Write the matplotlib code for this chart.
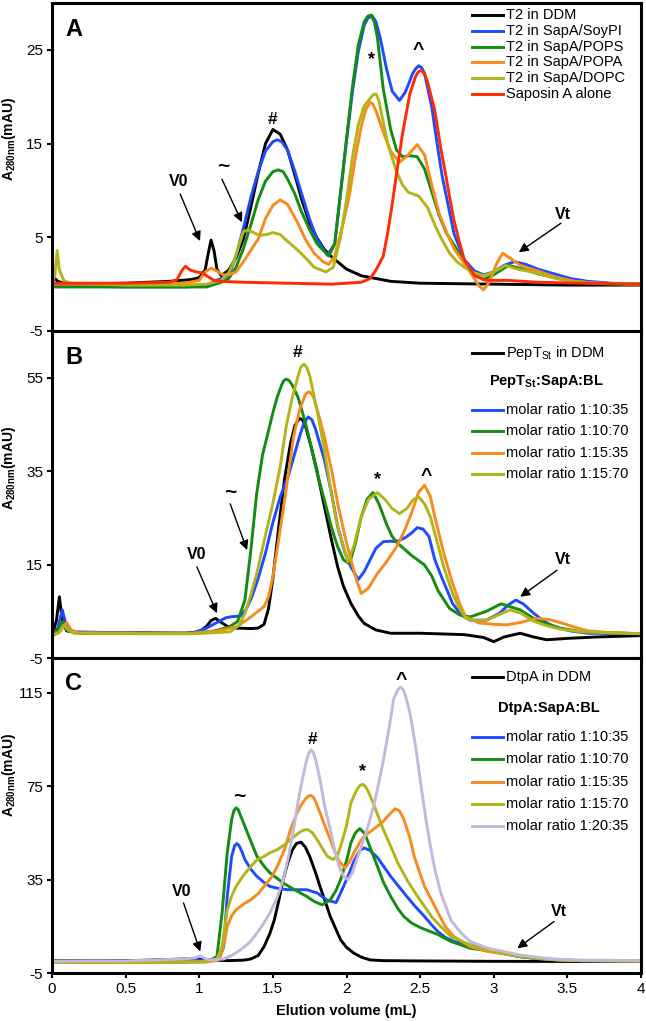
import matplotlib
matplotlib.use('Agg')
import matplotlib.pyplot as plt

plt.rcParams['font.family'] = ['Liberation Sans', 'DejaVu Sans']
plt.rcParams['mathtext.fontset'] = 'custom'
plt.rcParams['mathtext.rm'] = 'Liberation Sans'
plt.rcParams['mathtext.bf'] = 'Liberation Sans:bold'
plt.rcParams['mathtext.it'] = 'Liberation Sans:italic'

# ---------------- Panel A : T2 ----------------
A_x_ddm = [0, 0.02, 0.04, 0.08, 0.2, 0.5, 0.8, 0.95, 1.0, 1.04, 1.06, 1.08, 1.1, 1.12, 1.15,
           1.2, 1.25, 1.3, 1.35, 1.4, 1.45, 1.5, 1.55, 1.6, 1.65, 1.7, 1.75, 1.8, 1.85, 1.9,
           2.0, 2.1, 2.2, 2.3, 2.5, 3.0, 3.5, 4.0]
A_y_ddm = [0.3, 0.6, 0.3, 0.1, 0.0, 0.1, 0.3, 0.5, 0.7, 1.5, 3.2, 4.7, 3.6, 1.6, 0.9,
           1.5, 2.8, 4.8, 8.2, 11.8, 15.0, 16.5, 16.0, 14.3, 11.6, 8.8, 6.5, 4.9, 3.7, 2.9,
           1.6, 0.9, 0.6, 0.3, 0.1, 0.0, -0.1, -0.1]

A_x_soy = [0, 0.1, 0.5, 0.9, 1.05, 1.1, 1.15, 1.2, 1.25, 1.3, 1.35, 1.4, 1.45, 1.5, 1.53, 1.56,
           1.6, 1.65, 1.7, 1.75, 1.8, 1.87, 1.92, 1.96, 2.0, 2.04, 2.08, 2.12, 2.145, 2.175, 2.2,
           2.23, 2.27, 2.31, 2.36, 2.4, 2.45, 2.47, 2.49, 2.51, 2.53, 2.58, 2.62, 2.65, 2.73, 2.8,
           2.87, 2.93, 3.0, 3.07, 3.14, 3.22, 3.3, 3.41, 3.52, 3.64, 3.8, 4.0]
A_y_soy = [-0.2, -0.2, -0.3, -0.3, -0.2, 0.3, 0.6, 0.9, 3.0, 6.0, 9.2, 12.0, 14.2, 15.2, 15.4, 15.2,
           14.3, 12.0, 9.4, 6.9, 4.8, 3.1, 4.3, 9.8, 15.3, 20.5, 24.8, 27.6, 28.4, 28.6, 28.0,
           26.2, 23.1, 20.6, 19.6, 20.5, 22.5, 23.0, 23.3, 23.1, 22.5, 18.8, 14.5, 11.5, 5.4, 2.6,
           1.4, 1.0, 1.3, 2.0, 2.4, 2.1, 1.6, 1.1, 0.6, 0.3, 0.1, 0.0]

A_x_pops = [0, 0.5, 0.9, 1.05, 1.15, 1.2, 1.25, 1.3, 1.35, 1.4, 1.45, 1.5, 1.535, 1.57, 1.6, 1.65,
            1.69, 1.75, 1.8, 1.88, 1.92, 1.96, 2.0, 2.04, 2.08, 2.12, 2.145, 2.17, 2.19, 2.21, 2.25,
            2.3, 2.34, 2.38, 2.43, 2.48, 2.53, 2.58, 2.63, 2.68, 2.73, 2.8, 2.87, 2.93, 3.0, 3.1,
            3.2, 3.3, 3.41, 3.52, 3.64, 3.8, 4.0]
A_y_pops = [-0.3, -0.3, -0.3, -0.3, 0.2, 0.6, 1.8, 3.8, 6.3, 9.0, 11.0, 12.0, 12.2, 12.0, 11.2, 9.6,
            7.9, 5.8, 4.3, 3.0, 4.3, 9.8, 15.5, 21.0, 25.5, 28.0, 28.6, 28.7, 27.9, 26.3, 20.8,
            16.5, 14.3, 13.6, 13.7, 13.6, 12.3, 9.8, 7.3, 5.4, 4.2, 2.4, 1.0, 0.5, 1.0, 2.0,
            1.6, 1.1, 0.7, 0.3, 0.1, 0.0, 0.0]

A_x_popa = [0, 0.5, 0.9, 1.0, 1.04, 1.08, 1.12, 1.16, 1.2, 1.25, 1.3, 1.35, 1.4, 1.45, 1.5, 1.55,
            1.6, 1.67, 1.72, 1.78, 1.84, 1.88, 1.92, 1.97, 2.02, 2.06, 2.1, 2.13, 2.16, 2.18, 2.2,
            2.25, 2.3, 2.36, 2.42, 2.48, 2.53, 2.58, 2.63, 2.68, 2.73, 2.8, 2.86, 2.9, 2.93, 2.97,
            3.02, 3.06, 3.1, 3.18, 3.3, 3.41, 3.55, 3.7, 4.0]
A_y_popa = [0.0, 0.0, 0.1, 0.4, 1.3, 1.7, 1.4, 1.0, 1.0, 1.3, 2.4, 3.6, 4.8, 7.0, 8.4, 9.0,
            8.5, 6.5, 4.8, 3.3, 2.4, 2.1, 3.0, 6.0, 9.5, 13.5, 16.8, 18.6, 19.4, 19.2, 18.5,
            16.2, 14.2, 13.0, 13.8, 14.9, 13.8, 10.5, 7.5, 5.5, 3.8, 2.2, 0.8, -0.2, -0.6, 0.2,
            2.2, 3.3, 2.9, 2.0, 1.4, 0.8, 0.3, 0.1, 0.0]

A_x_dopc = [0, 0.02, 0.035, 0.05, 0.08, 0.12, 0.5, 0.9, 1.05, 1.15, 1.2, 1.24, 1.27, 1.3, 1.33,
            1.37, 1.41, 1.46, 1.5, 1.55, 1.59, 1.65, 1.69, 1.74, 1.78, 1.86, 1.91, 1.96, 2.0, 2.04,
            2.08, 2.12, 2.16, 2.18, 2.2, 2.22, 2.24, 2.28, 2.34, 2.38, 2.42, 2.49, 2.55, 2.6, 2.64,
            2.7, 2.75, 2.8, 2.87, 2.93, 3.0, 3.08, 3.16, 3.29, 3.4, 3.52, 3.7, 4.0]
A_y_dopc = [0.0, 1.0, 3.6, 1.5, 0.4, 0.1, -0.1, -0.1, 0.0, 0.4, 1.2, 2.6, 4.2, 5.6, 5.8,
            5.5, 5.2, 5.3, 5.5, 5.3, 4.7, 3.9, 3.3, 2.5, 1.8, 1.3, 1.8, 5.0, 9.0, 13.5,
            17.0, 19.0, 19.8, 20.2, 20.3, 19.6, 18.0, 15.0, 12.0, 10.6, 9.8, 9.4, 8.2, 6.3, 5.0,
            3.3, 2.4, 1.8, 1.2, 0.9, 1.3, 2.0, 1.6, 1.2, 0.7, 0.3, 0.1, 0.0]

A_x_sapa = [0, 0.5, 0.8, 0.85, 0.88, 0.905, 0.94, 0.98, 1.02, 1.06, 1.1, 1.15, 1.3, 1.6, 1.9, 2.1,
            2.16, 2.2, 2.25, 2.28, 2.31, 2.34, 2.38, 2.43, 2.47, 2.49, 2.51, 2.53, 2.55, 2.6, 2.64,
            2.67, 2.7, 2.73, 2.77, 2.8, 2.87, 2.95, 3.1, 3.3, 3.6, 4.0]
A_y_sapa = [0.1, 0.1, 0.2, 0.5, 1.4, 1.9, 1.5, 1.3, 1.2, 0.8, 0.4, 0.3, 0.2, 0.1, 0.0, 0.2,
            0.6, 1.5, 3.0, 5.5, 8.5, 11.8, 16.0, 20.3, 22.2, 22.7, 22.8, 22.4, 21.6, 18.5, 14.5,
            12.0, 9.3, 6.8, 4.3, 2.6, 0.9, 0.4, 0.4, 0.2, 0.1, 0.0]

A_labels = ['T2 in DDM', 'T2 in SapA/SoyPI', 'T2 in SapA/POPS', 'T2 in SapA/POPA',
            'T2 in SapA/DOPC', 'Saposin A alone']

# ---------------- Panel B : PepT_St ----------------
B_x_ddm = [0, 0.03, 0.05, 0.07, 0.1, 0.2, 0.6, 0.9, 1.0, 1.05, 1.08, 1.11, 1.15, 1.2, 1.25, 1.35,
           1.40, 1.44, 1.47, 1.5, 1.54, 1.58, 1.62, 1.65, 1.68, 1.70, 1.72, 1.76, 1.8, 1.85, 1.9,
           1.94, 1.98, 2.03, 2.08, 2.12, 2.2, 2.3, 2.5, 2.8, 2.93, 3.0, 3.07, 3.18, 3.27, 3.36,
           3.5, 3.7, 4.0]
B_y_ddm = [-0.2, 3.0, 8.1, 3.0, 0.8, 0.3, 0.4, 0.3, 0.6, 1.8, 3.0, 3.5, 2.6, 1.6, 1.4, 1.3,
           1.4, 2.2, 5.5, 12.0, 23.1, 33.5, 41.0, 44.8, 46.3, 46.0, 44.8, 40.2, 35.0, 27.4, 20.0,
           14.5, 10.3, 6.7, 4.0, 2.4, 1.0, 0.3, 0.3, 0.0, -0.6, -1.5, -0.5, 0.3, -0.5, -1.1,
           -0.8, -0.5, -0.2]

B_x_1035 = [0, 0.04, 0.07, 0.1, 0.15, 0.6, 0.95, 1.05, 1.12, 1.18, 1.21, 1.28, 1.32, 1.36, 1.4,
            1.45, 1.5, 1.55, 1.61, 1.68, 1.71, 1.74, 1.765, 1.79, 1.85, 1.9, 1.94, 1.99, 2.03, 2.08,
            2.12, 2.16, 2.2, 2.25, 2.3, 2.34, 2.4, 2.44, 2.48, 2.52, 2.56, 2.6, 2.65, 2.72, 2.78,
            2.84, 2.95, 3.04, 3.1, 3.15, 3.2, 3.27, 3.34, 3.41, 3.52, 3.64, 4.0]
B_y_1035 = [-0.2, 1.5, 5.3, 1.5, 0.6, 0.3, 0.3, 1.4, 2.6, 3.6, 3.8, 4.0, 5.5, 8.3, 12.0,
            17.5, 24.0, 29.5, 34.5, 42.3, 45.2, 46.6, 46.0, 44.0, 37.4, 30.0, 23.1, 17.5, 14.5, 11.8,
            13.5, 16.0, 18.5, 19.9, 20.0, 19.9, 20.8, 21.7, 22.9, 22.6, 21.0, 16.0, 12.0, 6.7, 4.2,
            3.1, 3.1, 4.6, 6.4, 7.4, 6.6, 4.6, 2.9, 1.7, 0.8, 0.3, 0.2]

B_x_1070 = [0, 0.04, 0.07, 0.1, 0.15, 0.6, 0.95, 1.1, 1.2, 1.26, 1.31, 1.35, 1.39, 1.43, 1.46,
            1.5, 1.53, 1.56, 1.575, 1.59, 1.61, 1.63, 1.67, 1.72, 1.76, 1.8, 1.85, 1.9, 1.94, 1.98,
            2.02, 2.06, 2.1, 2.14, 2.18, 2.22, 2.27, 2.31, 2.35, 2.44, 2.53, 2.58, 2.62, 2.7, 2.77,
            2.84, 2.95, 3.05, 3.18, 3.29, 3.45, 3.6, 4.0]
B_y_1070 = [-0.2, 1.0, 2.8, 1.0, 0.4, 0.3, 0.3, 0.8, 1.6, 2.8, 7.4, 18.0, 30.2, 38.5, 42.3,
            47.5, 50.9, 53.5, 54.4, 54.7, 54.4, 53.5, 50.9, 45.5, 40.2, 34.6, 28.8, 22.7, 18.8, 16.0,
            15.2, 19.5, 25.2, 29.0, 30.4, 28.0, 23.8, 21.0, 19.5, 17.0, 14.9, 12.5, 9.5, 5.6, 4.2,
            3.8, 5.0, 6.6, 5.3, 3.1, 1.4, 0.6, 0.2]

B_x_1535 = [0, 0.05, 0.1, 0.13, 0.18, 0.6, 0.95, 1.12, 1.2, 1.26, 1.35, 1.44, 1.47, 1.5, 1.53,
            1.57, 1.61, 1.64, 1.68, 1.71, 1.725, 1.745, 1.765, 1.78, 1.82, 1.85, 1.9, 1.94, 1.99, 2.03,
            2.07, 2.1, 2.15, 2.21, 2.27, 2.34, 2.39, 2.44, 2.49, 2.53, 2.57, 2.6, 2.66, 2.72, 2.77,
            2.81, 2.9, 3.0, 3.09, 3.18, 3.29, 3.38, 3.45, 3.55, 3.64, 3.8, 4.0]
B_y_1535 = [-0.2, 0.5, 2.6, 1.0, 0.4, 0.3, 0.3, 0.8, 1.3, 1.8, 3.8, 6.0, 8.0, 12.4, 18.5,
            26.7, 35.5, 42.3, 48.0, 50.5, 51.6, 52.0, 51.5, 50.5, 46.0, 42.3, 35.0, 28.1, 21.0, 16.0,
            11.5, 8.8, 10.0, 13.1, 15.5, 18.8, 22.0, 25.9, 30.5, 32.0, 29.5, 25.2, 17.5, 11.0, 6.5,
            3.8, 2.5, 2.2, 2.1, 2.6, 3.5, 3.2, 2.6, 1.6, 0.8, 0.4, 0.2]

B_x_1570 = [0, 0.05, 0.08, 0.11, 0.15, 0.6, 0.95, 1.1, 1.21, 1.27, 1.31, 1.35, 1.39, 1.44, 1.5,
            1.55, 1.59, 1.63, 1.67, 1.69, 1.71, 1.73, 1.75, 1.8, 1.85, 1.89, 1.93, 1.96, 2.01, 2.05,
            2.1, 2.15, 2.21, 2.26, 2.31, 2.36, 2.41, 2.45, 2.49, 2.53, 2.57, 2.61, 2.66, 2.72, 2.77,
            2.81, 2.88, 2.95, 3.03, 3.11, 3.19, 3.27, 3.36, 3.45, 3.6, 4.0]
B_y_1570 = [-0.3, 0.5, 2.0, 1.0, 0.3, 0.2, 0.2, 0.4, 0.6, 2.0, 4.5, 8.5, 13.0, 20.0, 28.1,
            36.0, 44.5, 50.5, 55.2, 57.3, 57.9, 57.2, 55.5, 48.0, 39.5, 31.6, 24.5, 20.9, 15.6, 19.0,
            25.2, 29.0, 30.4, 29.0, 27.0, 25.9, 27.0, 28.8, 29.5, 28.0, 25.2, 20.5, 14.5, 8.8, 5.5,
            3.5, 3.0, 3.1, 4.2, 5.3, 4.5, 2.9, 1.9, 1.2, 0.6, 0.2]

# ---------------- Panel C : DtpA ----------------
C_x_ddm = [0, 0.3, 0.6, 0.9, 1.0, 1.1, 1.2, 1.3, 1.35, 1.4, 1.44, 1.48, 1.51, 1.54, 1.57, 1.6,
           1.63, 1.66, 1.69, 1.72, 1.75, 1.79, 1.82, 1.86, 1.89, 1.93, 1.96, 2.0, 2.05, 2.1, 2.16,
           2.25, 2.41, 3.0, 4.0]
C_y_ddm = [0.2, 0.2, 0.4, 1.0, 0.9, 0.5, 0.3, 0.5, 1.0, 2.5, 6.3, 12.0, 17.8, 26.0, 35.0, 42.0,
           47.5, 50.5, 51.1, 49.0, 45.0, 38.0, 32.1, 24.8, 19.2, 13.5, 9.2, 6.0, 3.5, 1.8, 0.6,
           0.3, 0.2, 0.0, -0.1]

C_x_1035 = [0, 0.5, 0.9, 1.0, 1.1, 1.14, 1.166, 1.19, 1.22, 1.24, 1.255, 1.27, 1.29, 1.31, 1.35,
            1.392, 1.44, 1.48, 1.54, 1.6, 1.67, 1.73, 1.8, 1.87, 1.93, 1.98, 2.02, 2.05, 2.09, 2.12,
            2.16, 2.21, 2.26, 2.3, 2.35, 2.39, 2.46, 2.53, 2.58, 2.62, 2.67, 2.73, 2.84, 2.96, 3.07,
            3.18, 3.3, 3.41, 3.6, 4.0]
C_y_1035 = [0.0, 0.0, 0.3, 0.5, 0.8, 2.0, 6.3, 27.8, 45.0, 49.5, 50.5, 49.6, 47.0, 43.6, 39.5,
            36.4, 33.8, 32.1, 31.2, 30.7, 30.7, 30.7, 29.3, 26.1, 25.2, 32.1, 38.0, 42.9, 47.5, 48.6,
            47.5, 44.5, 40.0, 36.4, 32.5, 29.3, 24.0, 19.2, 15.5, 12.8, 10.3, 8.5, 7.0, 4.9, 3.3,
            2.0, 1.2, 0.6, 0.3, 0.2]

C_x_1070 = [0, 0.5, 0.9, 1.05, 1.12, 1.155, 1.19, 1.22, 1.235, 1.25, 1.265, 1.28, 1.3, 1.35, 1.392,
            1.44, 1.48, 1.53, 1.57, 1.63, 1.687, 1.73, 1.78, 1.835, 1.89, 1.93, 1.96, 2.0, 2.03, 2.06,
            2.09, 2.12, 2.14, 2.18, 2.21, 2.25, 2.3, 2.35, 2.39, 2.44, 2.5, 2.56, 2.62, 2.71, 2.84,
            2.96, 3.07, 3.18, 3.3, 3.45, 3.6, 4.0]
C_y_1070 = [-0.5, -0.5, -0.3, -0.2, 2.0, 20.7, 46.5, 60.8, 64.5, 65.8, 65.0, 62.5, 59.4, 51.5, 45.0,
            40.8, 37.9, 35.5, 33.6, 31.3, 29.3, 27.8, 25.7, 24.2, 26.4, 30.5, 35.0, 43.0, 50.8, 55.0,
            56.9, 55.0, 52.2, 45.5, 40.7, 34.0, 27.8, 22.5, 19.2, 16.5, 14.5, 13.0, 11.5, 8.5, 5.6,
            4.6, 3.3, 2.0, 1.1, 0.5, 0.3, 0.1]

C_x_1535 = [0, 0.5, 0.9, 1.05, 1.12, 1.143, 1.17, 1.19, 1.22, 1.25, 1.3, 1.35, 1.4, 1.44, 1.49,
            1.53, 1.58, 1.62, 1.66, 1.687, 1.72, 1.74, 1.76, 1.775, 1.79, 1.82, 1.86, 1.89, 1.92, 1.95,
            1.99, 2.02, 2.05, 2.09, 2.12, 2.17, 2.21, 2.25, 2.28, 2.33, 2.36, 2.39, 2.43, 2.46, 2.5,
            2.53, 2.58, 2.62, 2.67, 2.73, 2.84, 2.96, 3.07, 3.18, 3.3, 3.45, 3.6, 4.0]
C_y_1535 = [-0.5, -0.5, -0.3, -0.2, 0.3, 2.0, 8.0, 14.9, 19.5, 22.1, 24.5, 26.4, 29.0, 32.1, 36.0,
            40.7, 48.0, 56.5, 63.0, 66.5, 69.5, 70.8, 71.1, 70.3, 68.5, 63.7, 57.0, 52.2, 47.0, 42.9,
            40.0, 42.5, 46.5, 51.0, 53.6, 56.0, 57.9, 60.0, 62.2, 65.4, 64.5, 60.8, 53.0, 45.0, 37.5,
            32.1, 26.0, 21.0, 15.0, 10.6, 6.3, 4.2, 3.2, 2.2, 1.3, 0.6, 0.3, 0.1]

C_x_1570 = [0, 0.5, 0.9, 1.05, 1.12, 1.155, 1.19, 1.22, 1.25, 1.3, 1.35, 1.392, 1.44, 1.48, 1.53,
            1.58, 1.62, 1.67, 1.70, 1.73, 1.75, 1.77, 1.8, 1.84, 1.87, 1.91, 1.94, 1.96, 2.0, 2.03,
            2.07, 2.09, 2.11, 2.13, 2.15, 2.19, 2.24, 2.3, 2.35, 2.41, 2.47, 2.53, 2.58, 2.64, 2.71,
            2.84, 2.96, 3.07, 3.18, 3.3, 3.45, 3.6, 4.0]
C_y_1570 = [-0.5, -0.5, -0.3, -0.1, 1.0, 6.3, 22.1, 28.0, 32.1, 36.8, 40.7, 43.5, 45.0, 46.5, 47.9,
            50.0, 52.2, 54.8, 56.0, 56.5, 56.0, 55.0, 52.2, 48.0, 45.0, 43.6, 45.5, 49.3, 58.0, 68.0,
            73.5, 75.3, 75.9, 74.8, 72.5, 66.5, 58.0, 49.3, 42.0, 35.0, 29.0, 23.5, 19.0, 14.9, 10.6,
            7.0, 4.8, 3.3, 2.2, 1.3, 0.6, 0.3, 0.1]

C_x_2035 = [0, 0.5, 0.9, 0.97, 1.007, 1.04, 1.075, 1.166, 1.22, 1.28, 1.34, 1.392, 1.44, 1.48, 1.53,
            1.57, 1.61, 1.64, 1.67, 1.70, 1.73, 1.745, 1.76, 1.775, 1.79, 1.82, 1.85, 1.89, 1.92, 1.95,
            1.98, 2.01, 2.04, 2.07, 2.11, 2.14, 2.18, 2.21, 2.25, 2.28, 2.3, 2.32, 2.345, 2.36, 2.37,
            2.385, 2.4, 2.43, 2.47, 2.5, 2.54, 2.57, 2.6, 2.64, 2.71, 2.78, 2.84, 2.96, 3.07, 3.18,
            3.3, 3.41, 3.6, 4.0]
C_y_2035 = [0.0, 0.2, 1.0, 1.5, 2.3, 1.2, 0.6, 1.0, 2.5, 4.9, 8.0, 12.1, 16.5, 20.7, 27.5,
            35.0, 46.0, 56.5, 68.0, 78.0, 86.5, 89.4, 90.6, 89.4, 86.5, 78.0, 67.0, 56.5, 47.5, 40.7,
            36.5, 35.0, 38.0, 43.6, 51.0, 56.5, 65.5, 73.7, 86.0, 96.6, 104.0, 112.4, 116.0, 117.2, 117.4,
            116.5, 114.0, 106.7, 92.0, 78.0, 60.5, 49.3, 39.5, 29.3, 17.5, 12.0, 8.5, 5.6, 4.2, 2.7,
            1.7, 1.0, 0.5, 0.3]

ratio_labels = ['molar ratio 1:10:35', 'molar ratio 1:10:70', 'molar ratio 1:15:35',
                'molar ratio 1:15:70', 'molar ratio 1:20:35']

A_yticks = [-5, 5, 15, 25]
B_yticks = [-5, 15, 35, 55]
C_yticks = [-5, 35, 75, 115]
x_ticks = [0, 0.5, 1, 1.5, 2, 2.5, 3, 3.5, 4]
x_ticklabels = ['0', '0.5', '1', '1.5', '2', '2.5', '3', '3.5', '4']

# ---------------- styling ----------------
K = '#000000'
BLU = '#1f4bff'
GRN = '#138c13'
ORG = '#f68b1e'
OLV = '#b3b31a'
RED = '#ff2b05'
LAV = '#c4b8da'
LW = 2.1

W_PX, H_PX = 646, 1021
fig = plt.figure(figsize=(W_PX / 100, H_PX / 100), dpi=100)
left, width = 52 / W_PX, 589 / W_PX
axA = fig.add_axes([left, 1 - 331 / H_PX, width, 328 / H_PX])
axB = fig.add_axes([left, 1 - 658 / H_PX, width, 327 / H_PX])
axC = fig.add_axes([left, 1 - 973 / H_PX, width, 315 / H_PX])

panels = [
    (axA, [(A_x_ddm, A_y_ddm, K), (A_x_soy, A_y_soy, BLU), (A_x_pops, A_y_pops, GRN),
           (A_x_popa, A_y_popa, ORG), (A_x_dopc, A_y_dopc, OLV), (A_x_sapa, A_y_sapa, RED)],
     (-5, 30), A_yticks, 'A'),
    (axB, [(B_x_ddm, B_y_ddm, K), (B_x_1035, B_y_1035, BLU), (B_x_1070, B_y_1070, GRN),
           (B_x_1535, B_y_1535, ORG), (B_x_1570, B_y_1570, OLV)],
     (-5, 65), B_yticks, 'B'),
    (axC, [(C_x_ddm, C_y_ddm, K), (C_x_1035, C_y_1035, BLU), (C_x_1070, C_y_1070, GRN),
           (C_x_1535, C_y_1535, ORG), (C_x_1570, C_y_1570, OLV), (C_x_2035, C_y_2035, LAV)],
     (-5, 130), C_yticks, 'C'),
]

ylab_pos = {'A': 0.585, 'B': 0.58, 'C': 0.63}
for ax, series, ylim, yt, tag in panels:
    for xs, ys, c in series:
        ax.plot(xs, ys, color=c, lw=LW, solid_joinstyle='round', solid_capstyle='round')
    ax.set_xlim(0, 4)
    ax.set_ylim(*ylim)
    ax.set_yticks(yt)
    ax.set_yticklabels([str(v) for v in yt], fontsize=11)
    for s in ax.spines.values():
        s.set_linewidth(2.2)
    ax.tick_params(axis='y', direction='out', length=3.5, width=1.5, pad=3)
    ax.set_xticks(x_ticks)
    if ax is axC:
        ax.set_xticklabels(x_ticklabels, fontsize=11)
        ax.tick_params(axis='x', direction='out', length=3.5, width=1.5, pad=3)
    else:
        ax.tick_params(axis='x', bottom=False, labelbottom=False)
    ax.set_ylabel(r'$\mathbf{A_{280nm}(mAU)}$', fontsize=10)
    ax.yaxis.set_label_coords(-0.058, ylab_pos[tag])
    ax.text(0.022, 0.955, tag, transform=ax.transAxes, fontsize=17, fontweight='bold',
            ha='left', va='top')

axC.set_xlabel('Elution volume (mL)', fontsize=10.5, fontweight='bold', labelpad=6)


def legend_line(ax, y, color, text, fs=10.5, x0=0.713, x1=0.766, xt=0.771):
    ax.plot([x0, x1], [y, y], color=color, lw=LW, transform=ax.transAxes, clip_on=False)
    ax.text(xt, y, text, transform=ax.transAxes, fontsize=fs, va='center', ha='left')


# Legend A
for yy, c, t in zip([0.963, 0.915, 0.867, 0.819, 0.771, 0.723],
                    [K, BLU, GRN, ORG, OLV, RED], A_labels):
    legend_line(axA, yy, c, t)

# Legend B
legend_line(axB, 0.934, K, r'PepT$_{\mathrm{St}}$ in DDM')
axB.text(0.84, 0.845, r'PepT$_{\mathbf{St}}$:SapA:BL', transform=axB.transAxes, fontsize=10.5,
         fontweight='bold', ha='center', va='center')
for yy, c, t in zip([0.758, 0.694, 0.628, 0.563], [BLU, GRN, ORG, OLV], ratio_labels[:4]):
    legend_line(axB, yy, c, t)

# Legend C
legend_line(axC, 0.9385, K, 'DtpA in DDM')
axC.text(0.843, 0.840, 'DtpA:SapA:BL', transform=axC.transAxes, fontsize=10.5,
         fontweight='bold', ha='center', va='center')
for yy, c, t in zip([0.749, 0.678, 0.607, 0.537, 0.466], [BLU, GRN, ORG, OLV, LAV], ratio_labels):
    legend_line(axC, yy, c, t)

# Peak markers and arrows
arrow_kw = dict(arrowstyle='-|>', color='k', lw=1.0, mutation_scale=14, shrinkA=0, shrinkB=0)
FS_V, FS_H, FS_S, FS_C, FS_T = 11.5, 12.5, 13, 14, 15


def mark(ax, x, y, s, fs):
    ax.text(x, y, s, fontsize=fs, fontweight='bold', ha='center', va='center')


def arrow(ax, tail, head):
    ax.annotate('', xy=head, xytext=tail, arrowprops=arrow_kw)


# Panel A
mark(axA, 0.857, 11.0, 'V0', FS_V)
arrow(axA, (0.871, 9.6), (1.005, 4.6))
mark(axA, 1.165, 12.6, '~', FS_T)
arrow(axA, (1.154, 11.2), (1.29, 6.6))
mark(axA, 1.50, 17.6, '#', FS_H)
mark(axA, 2.168, 24.0, '*', FS_S)
mark(axA, 2.49, 24.9, '^', FS_C)
mark(axA, 3.47, 7.4, 'Vt', FS_V)
arrow(axA, (3.456, 6.5), (3.17, 3.4))

# Panel B
mark(axB, 0.984, 17.2, 'V0', FS_V)
arrow(axB, (0.984, 14.5), (1.12, 4.6))
mark(axB, 1.21, 30.5, '~', FS_T)
arrow(axB, (1.21, 28.0), (1.325, 18.1))
mark(axB, 1.67, 60.4, '#', FS_H)
mark(axB, 2.21, 33.2, '*', FS_S)
mark(axB, 2.54, 33.8, '^', FS_C)
mark(axB, 3.467, 16.0, 'Vt', FS_V)
arrow(axB, (3.43, 13.8), (3.18, 8.1))

# Panel C
mark(axC, 0.882, 30.0, 'V0', FS_V)
arrow(axC, (0.893, 25.0), (1.007, 4.2))
mark(axC, 1.27, 70.5, '~', FS_T)
mark(axC, 1.767, 95.0, '#', FS_H)
mark(axC, 2.11, 81.3, '*', FS_S)
mark(axC, 2.374, 120.5, '^', FS_C)
mark(axC, 3.44, 21.4, 'Vt', FS_V)
arrow(axC, (3.41, 17.1), (3.16, 5.6))

fig.savefig('out.png', dpi=100)
